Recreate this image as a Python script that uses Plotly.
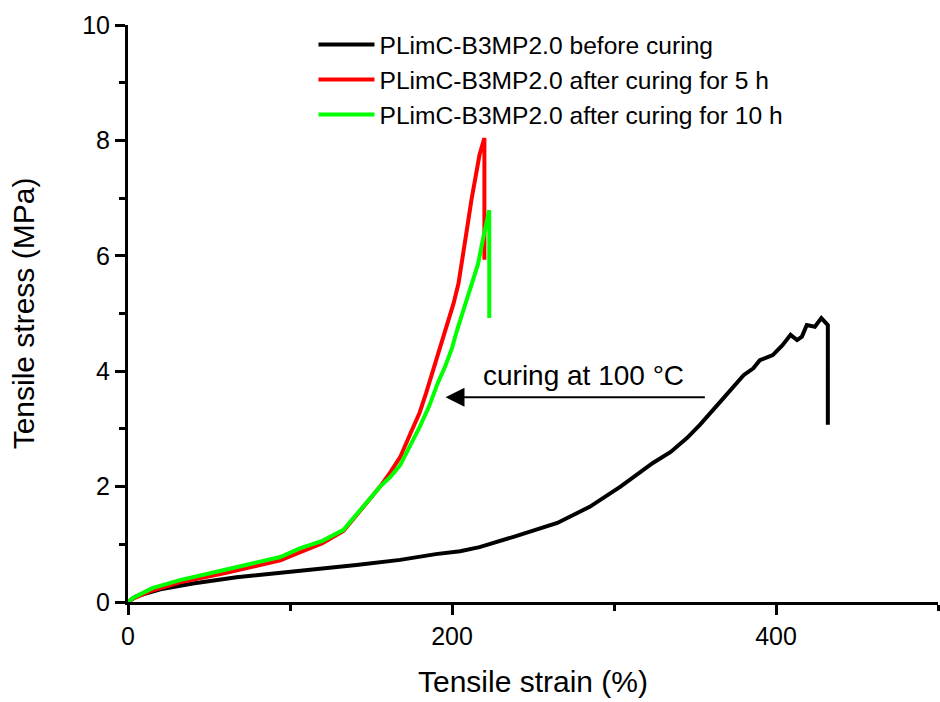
import plotly.graph_objects as go

# Data
before_x = [0, 5, 20, 40, 67, 100, 141, 168, 190, 205, 217, 238, 265, 285, 304, 324, 335, 345, 353, 365, 372, 380, 386, 390, 398, 404, 409, 413, 416, 419, 424, 428, 432, 432]
before_y = [0, 0.1, 0.22, 0.32, 0.43, 0.52, 0.64, 0.73, 0.83, 0.88, 0.95, 1.13, 1.37, 1.65, 2.0, 2.41, 2.6, 2.84, 3.07, 3.45, 3.68, 3.93, 4.05, 4.19, 4.28, 4.45, 4.63, 4.54, 4.6, 4.80, 4.77, 4.92, 4.80, 3.07]

h5_x = [0, 3, 15, 32, 60, 94, 106, 120, 133, 147.5, 155.6, 162, 168, 174, 180, 184, 188, 191, 194.5, 198, 201, 204, 206, 209, 212, 215, 217, 218.5, 220, 220]
h5_y = [0, 0.06, 0.2, 0.34, 0.5, 0.72, 0.86, 1.02, 1.23, 1.72, 2.0, 2.25, 2.51, 2.9, 3.28, 3.62, 3.98, 4.25, 4.55, 4.87, 5.18, 5.52, 5.85, 6.42, 6.97, 7.5, 7.75, 7.9, 8.04, 5.93]

h10_x = [0, 3, 15, 32, 60, 94, 106, 120, 133, 147.5, 155.6, 162, 168, 174, 180, 186, 191, 196, 200, 203, 207, 211, 216, 219, 223, 223]
h10_y = [0, 0.07, 0.24, 0.38, 0.56, 0.78, 0.93, 1.06, 1.25, 1.72, 2.0, 2.17, 2.37, 2.7, 3.03, 3.4, 3.78, 4.1, 4.4, 4.7, 5.05, 5.36, 5.85, 6.27, 6.79, 4.92]

names = ["PLimC-B3MP2.0 before curing",
         "PLimC-B3MP2.0 after curing for 5 h",
         "PLimC-B3MP2.0 after curing for 10 h"]
colors = ["#000000", "#ff0000", "#00ff00"]

x_ticks = [0, 200, 400]
y_ticks = [0, 2, 4, 6, 8, 10]

FONT = "Liberation Sans, Arial, sans-serif"

fig = go.Figure()
for xs, ys, nm, c in [(before_x, before_y, names[0], colors[0]),
                      (h5_x, h5_y, names[1], colors[1]),
                      (h10_x, h10_y, names[2], colors[2])]:
    fig.add_trace(go.Scatter(x=xs, y=ys, mode="lines", name=nm,
                             line=dict(color=c, width=4)))

fig.add_annotation(x=196, y=3.55, ax=357, ay=3.55, xref="x", yref="y",
                   axref="x", ayref="y", showarrow=True, arrowhead=2,
                   arrowsize=1.9, arrowwidth=2, arrowcolor="black", text="")
fig.add_annotation(x=281, y=3.93, xref="x", yref="y", text="curing at 100 °C",
                   showarrow=False, font=dict(size=28, color="black", family=FONT))

axis_common = dict(showline=True, linecolor="black", linewidth=3, ticks="outside",
                   ticklen=10, tickwidth=3, tickcolor="black", showgrid=False,
                   zeroline=False, mirror=False,
                   tickfont=dict(size=25, color="black", family=FONT))

fig.update_xaxes(range=[0, 500], tickvals=x_ticks,
                 title=dict(text="Tensile strain (%)", font=dict(size=30, color="black", family=FONT), standoff=22),
                 minor=dict(dtick=100, tick0=0, ticks="outside", ticklen=6, tickwidth=3, tickcolor="black"),
                 **axis_common)
fig.update_yaxes(range=[0, 10], tickvals=y_ticks,
                 title=dict(text="Tensile stress (MPa)", font=dict(size=30, color="black", family=FONT), standoff=39),
                 minor=dict(dtick=1, tick0=0, ticks="outside", ticklen=6, tickwidth=3, tickcolor="black"),
                 **axis_common)

fig.update_layout(
    width=940, height=702,
    margin=dict(l=128, r=2, t=25, b=100),
    paper_bgcolor="white", plot_bgcolor="white",
    font=dict(family=FONT, color="black"),
    showlegend=True,
    legend=dict(x=0.229, y=1.005, xanchor="left", yanchor="top",
                bgcolor="rgba(0,0,0,0)", font=dict(size=24.6, color="black", family=FONT),
                tracegroupgap=0, itemwidth=56),
)

fig.write_html("out.html")
